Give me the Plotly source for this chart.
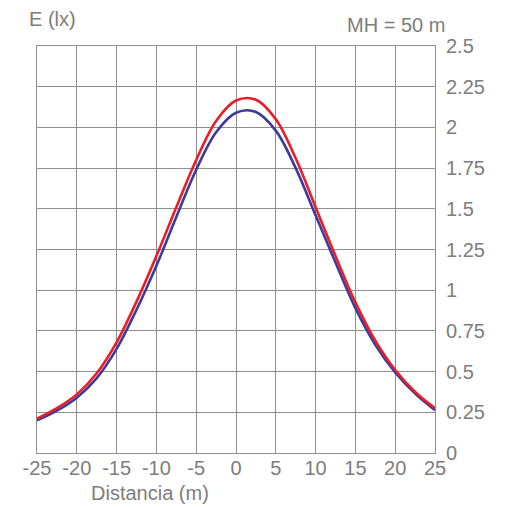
import plotly.graph_objects as go

distance = [-25, -22.5, -20, -17.5, -15, -12.5, -10, -7.5, -5, -2.5, 0, 2.5, 5, 7.5, 10, 12.5, 15, 17.5, 20, 22.5, 25]
red_lux = [0.21, 0.275, 0.36, 0.49, 0.68, 0.93, 1.21, 1.51, 1.80, 2.04, 2.165, 2.17, 2.05, 1.81, 1.51, 1.21, 0.925, 0.69, 0.51, 0.375, 0.275]
blue_lux = [0.20, 0.26, 0.34, 0.46, 0.64, 0.88, 1.15, 1.45, 1.74, 1.97, 2.09, 2.095, 1.98, 1.75, 1.46, 1.17, 0.89, 0.665, 0.495, 0.365, 0.263]

x_ticks = [-25, -20, -15, -10, -5, 0, 5, 10, 15, 20, 25]
x_ticktext = ["-25", "-20", "-15", "-10", "-5", "0", "5", "10", "15", "20", "25"]
y_ticks = [0, 0.25, 0.5, 0.75, 1, 1.25, 1.5, 1.75, 2, 2.25, 2.5]
y_ticktext = ["0", "0.25", "0.5", "0.75", "1", "1.25", "1.5", "1.75", "2", "2.25", "2.5"]

GRID = "#8e8e8e"
TXT = "#7d7d7d"
FONT = "Liberation Sans, Arial, Helvetica, sans-serif"

fig = go.Figure()
fig.add_trace(go.Scatter(x=distance, y=blue_lux, mode="lines",
                         line=dict(color="#3a3b9c", width=2.6, shape="spline", smoothing=1.0),
                         showlegend=False, hoverinfo="skip"))
fig.add_trace(go.Scatter(x=distance, y=red_lux, mode="lines",
                         line=dict(color="#ec1c24", width=2.6, shape="spline", smoothing=1.0),
                         showlegend=False, hoverinfo="skip"))

# page body has an 8px margin, so the figure is sized to fit inside the window
fig.update_layout(
    width=498, height=499,
    margin=dict(l=29, r=71, t=38, b=54, autoexpand=False),
    paper_bgcolor="white", plot_bgcolor="white",
    font=dict(family=FONT, size=20, color=TXT),
    xaxis=dict(range=[-25, 25], tickvals=x_ticks, ticktext=x_ticktext,
               automargin=False,
               showgrid=True, gridcolor=GRID, gridwidth=1,
               showline=True, linecolor=GRID, linewidth=1, mirror=True,
               zeroline=False, ticks="", ticklabelstandoff=-3,
               tickfont=dict(family=FONT, size=20, color=TXT)),
    yaxis=dict(range=[0, 2.5], tickvals=y_ticks, ticktext=y_ticktext,
               side="right", automargin=False,
               showgrid=True, gridcolor=GRID, gridwidth=1,
               showline=True, linecolor=GRID, linewidth=1, mirror=True,
               zeroline=False, ticks="", ticklabelstandoff=6,
               tickfont=dict(family=FONT, size=20, color=TXT)),
    annotations=[
        dict(text="E (lx)", xref="paper", yref="paper", x=-0.025, y=1.0,
             yshift=27, xanchor="left", yanchor="middle", showarrow=False,
             font=dict(family=FONT, size=20, color=TXT)),
        dict(text="MH = 50 m", xref="paper", yref="paper", x=1.03, y=1.0,
             yshift=21, xanchor="right", yanchor="middle", showarrow=False,
             font=dict(family=FONT, size=20, color=TXT)),
        dict(text="Distancia (m)", xref="paper", yref="paper", x=0.284, y=0.0,
             yshift=-40, xanchor="center", yanchor="middle", showarrow=False,
             font=dict(family=FONT, size=20, color=TXT)),
    ],
)

fig.write_html("out.html")
